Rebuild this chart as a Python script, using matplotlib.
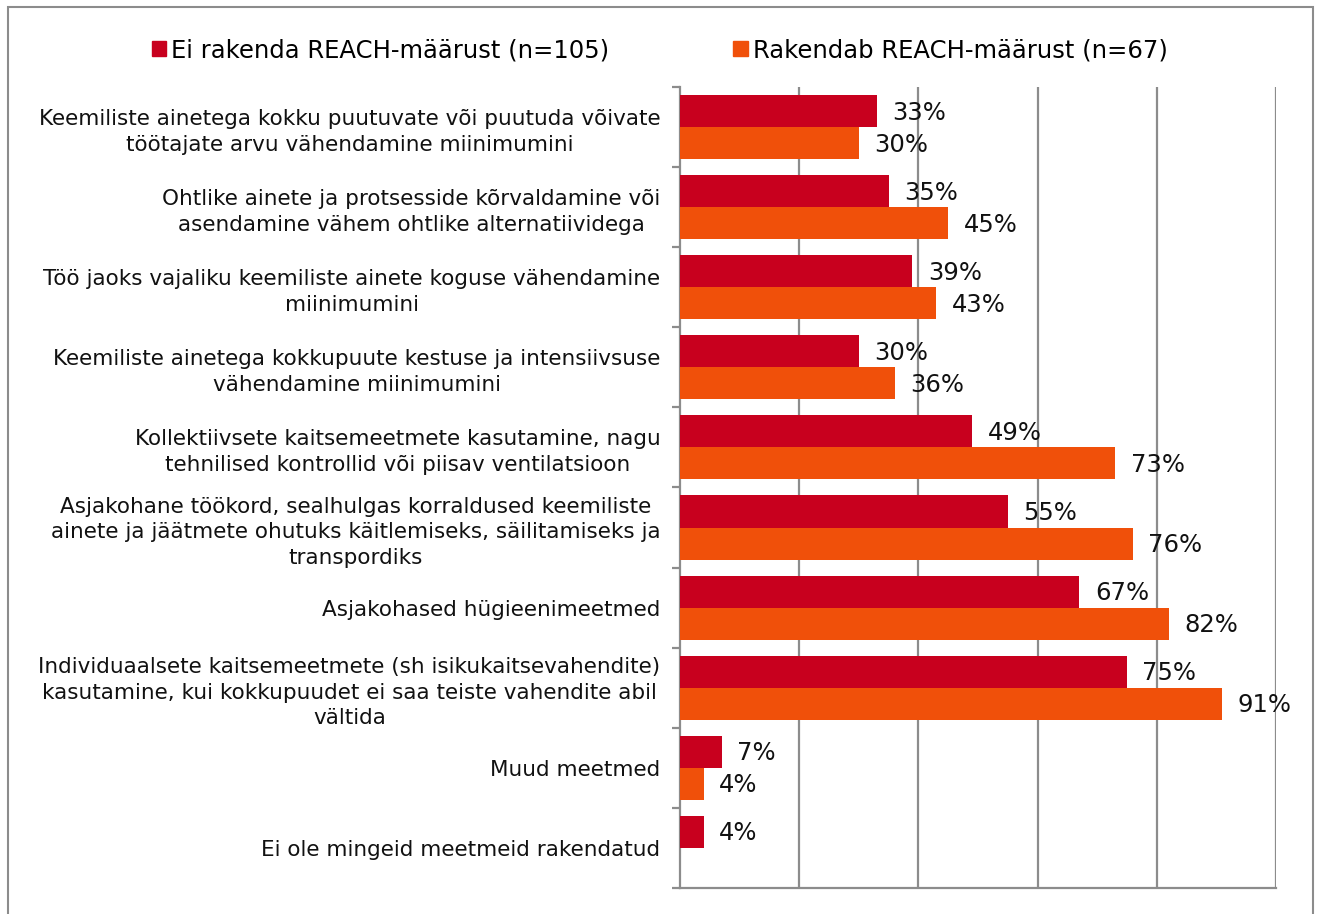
import numpy as np
import matplotlib.pyplot as plt
from matplotlib.patches import Rectangle

categories = [
    "Keemiliste ainetega kokku puutuvate või puutuda võivate\ntöötajate arvu vähendamine miinimumini",
    "Ohtlike ainete ja protsesside kõrvaldamine või\nasendamine vähem ohtlike alternatiividega",
    "Töö jaoks vajaliku keemiliste ainete koguse vähendamine\nmiinimumini",
    "Keemiliste ainetega kokkupuute kestuse ja intensiivsuse\nvähendamine miinimumini",
    "Kollektiivsete kaitsemeetmete kasutamine, nagu\ntehnilised kontrollid või piisav ventilatsioon",
    "Asjakohane töökord, sealhulgas korraldused keemiliste\nainete ja jäätmete ohutuks käitlemiseks, säilitamiseks ja\ntranspordiks",
    "Asjakohased hügieenimeetmed",
    "Individuaalsete kaitsemeetmete (sh isikukaitsevahendite)\nkasutamine, kui kokkupuudet ei saa teiste vahendite abil\nvältida",
    "Muud meetmed",
    "Ei ole mingeid meetmeid rakendatud",
]
not_applying = [33, 35, 39, 30, 49, 55, 67, 75, 7, 4]
applying = [30, 45, 43, 36, 73, 76, 82, 91, 4, np.nan]

series_names = ["Ei rakenda REACH-määrust (n=105)", "Rakendab REACH-määrust (n=67)"]
colors = ["#C8001E", "#F0500A"]
grid_color = "#8C8C8C"

plt.rcParams["font.family"] = "DejaVu Sans"

fig = plt.figure(figsize=(13.19, 9.14), dpi=100)
ax = fig.add_axes([0.5155, 0.0285, 0.4519, 0.8763])

y = np.arange(len(categories))
h = 0.4
for vals, offset, color, name in zip([not_applying, applying], [-h / 2, h / 2], colors, series_names):
    vals = np.array(vals, dtype=float)
    ax.barh(y + offset, vals, height=h, color=color, label=name, zorder=3)
    for yi, v in zip(y + offset, vals):
        if np.isnan(v):
            continue
        ax.text(v + 2.6, yi + 0.02, f"{v:.0f}%", va="center", ha="left", fontsize=17.5,
                color="#111111", zorder=4)

ax.set_xlim(0, 100)
ax.set_ylim(len(categories) - 0.5, -0.5)
ax.set_xticks([20, 40, 60, 80, 100])
ax.tick_params(axis="x", length=0, labelbottom=False)
ax.xaxis.grid(True, color=grid_color, linewidth=1.6, zorder=0)

ax.set_yticks(y)
ax.set_yticklabels(categories, fontsize=15.5, ha="right", multialignment="center",
                   color="#111111", linespacing=1.35)
ax.set_yticks(np.arange(-0.5, len(categories)), minor=True)
ax.tick_params(axis="y", which="major", length=0, pad=14)
ax.tick_params(axis="y", which="minor", length=6, width=1.6, color=grid_color, direction="out")

for side in ["top", "right"]:
    ax.spines[side].set_visible(False)
for side in ["left", "bottom"]:
    ax.spines[side].set_color(grid_color)
    ax.spines[side].set_linewidth(1.6)

handles = [Rectangle((0, 0), 1, 1, color=c) for c in colors]
fig.legend(handles, series_names, loc="center", bbox_to_anchor=(0.5, 0.945), ncol=2,
           frameon=False, fontsize=17.5, handlelength=0.6, handleheight=0.6,
           handletextpad=0.2, columnspacing=5.1)

# outer frame around the whole chart
fig.add_artist(Rectangle((8 / 1319, -0.05), 1305 / 1319, 1.05 - 7 / 914, transform=fig.transFigure,
                         fill=False, edgecolor=grid_color, linewidth=1.5))

fig.savefig("out.png", dpi=100)
